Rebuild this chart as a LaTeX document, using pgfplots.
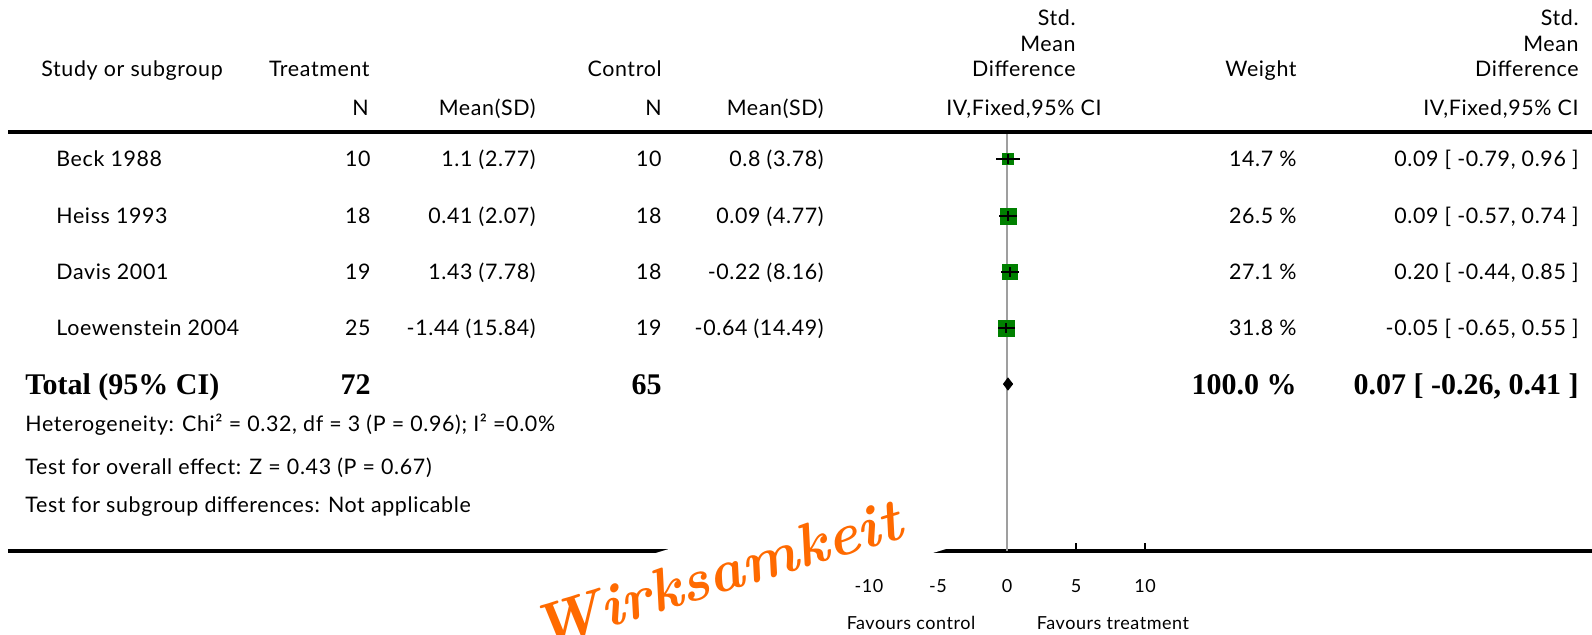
\documentclass[border=0pt]{standalone}
\usepackage{pgfplots}
\pgfplotsset{compat=1.18}
\usepackage{fontspec}
\newfontfamily\gill{Lato}[LetterSpace=3]
\newfontfamily\timesf{Liberation Serif}
\definecolor{smdgreen}{RGB}{0,128,0}
\definecolor{markorange}{RGB}{255,106,0}

\newcommand{\bodyfont}{\gill\fontsize{10.7}{12}\selectfont}
\newcommand{\smallfont}{\gill\fontsize{9}{10}\selectfont}
\newcommand{\totalfont}{\timesf\bfseries\fontsize{15}{18}\selectfont}

\tikzset{
  txt/.style={font=\bodyfont, inner sep=0pt, text=black},
  tot/.style={font=\totalfont, inner sep=0pt, text=black},
}

% one table row: baseline, study, N, mean(SD), N, mean(SD), weight, SMD [CI]
\newcommand{\studyrow}[8]{%
  \node[txt, anchor=base west] at (56,#1) {#2};
  \node[txt, anchor=base east] at (371,#1) {#3};
  \node[txt, anchor=base east] at (536,#1) {#4};
  \node[txt, anchor=base east] at (662,#1) {#5};
  \node[txt, anchor=base east] at (824,#1) {#6};
  \node[txt, anchor=base east] at (1297,#1) {#7};
  \node[txt, anchor=base east] at (1579,#1) {#8};
}

% one study in the forest: row, SMD, lower, upper, square half-size
\newcommand{\studymark}[5]{%
  \addplot[only marks, mark=square*, mark size=#5, draw=smdgreen, fill=smdgreen]
    coordinates {(#2,-#1)};
  \addplot[black, line width=1.2pt] coordinates {(#3,-#1) (#4,-#1)};
  \addplot[only marks, mark=|, mark size=2.3pt, black, mark options={line width=0.9pt}]
    coordinates {(#2,-#1)};
}

\begin{document}
\begin{tikzpicture}
% page frame: 1592 x 634 units of 0.5pt, origin at top left
\useasboundingbox (0pt,0pt) rectangle (796pt,-317pt);

\begin{axis}[
  at={(4pt,-275.5pt)}, anchor=south west,
  scale only axis, width=792pt, height=209.5pt,
  xmin=-72.39, xmax=42.39, ymin=-551, ymax=-132,
  axis x line*=bottom, axis y line=none,
  x axis line style={line width=2pt, black},
  xtick={-10,-5,0,5,10}, xticklabels={-10,-5,0,5,10},
  tick align=inside, major tick length=4pt,
  xtick style={black, line width=0.6pt},
  xticklabel style={font=\smallfont, anchor=center, yshift=-17.5pt},
  clip=false, clip marker paths=true,
]
% line of no effect
\addplot[gray!75, line width=0.8pt] coordinates {(0,-132) (0,-551)};
% studies: row, SMD, 95% CI, square half-size
\studymark{159}{0.09}{-0.79}{0.96}{2.8pt}
\studymark{216}{0.09}{-0.57}{0.74}{4.0pt}
\studymark{272}{0.20}{-0.44}{0.85}{3.6pt}
\studymark{328}{-0.05}{-0.65}{0.55}{4.0pt}
% pooled estimate 0.07 [-0.26, 0.41]
\addplot[black, fill=black] coordinates {(-0.26,-384) (0.07,-378) (0.41,-384) (0.07,-390)} -- cycle;
\end{axis}

\begin{scope}[x=0.5pt, y=-0.5pt]
% top rule
\draw[line width=2pt] (8,132) -- (1592,132);

% header
\node[txt, anchor=base west] at (41,76) {Study or subgroup};
\node[txt, anchor=base east] at (370,76) {Treatment};
\node[txt, anchor=base east] at (662,76) {Control};
\node[txt, anchor=base east] at (1297,76) {Weight};
\node[txt, anchor=base east] at (1076,25) {Std.};
\node[txt, anchor=base east] at (1076,51) {Mean};
\node[txt, anchor=base east] at (1076,76) {Difference};
\node[txt, anchor=base east] at (1579,25) {Std.};
\node[txt, anchor=base east] at (1579,51) {Mean};
\node[txt, anchor=base east] at (1579,76) {Difference};
\node[txt, anchor=base east] at (369,115) {N};
\node[txt, anchor=base east] at (536,115) {Mean(SD)};
\node[txt, anchor=base east] at (662,115) {N};
\node[txt, anchor=base east] at (824,115) {Mean(SD)};
\node[txt, anchor=base east] at (1102,115) {IV,Fixed,95\% CI};
\node[txt, anchor=base east] at (1579,115) {IV,Fixed,95\% CI};

% studies
\studyrow{166}{Beck 1988}{10}{1.1 (2.77)}{10}{0.8 (3.78)}{14.7 \%}{0.09 [ -0.79, 0.96 ]}
\studyrow{223}{Heiss 1993}{18}{0.41 (2.07)}{18}{0.09 (4.77)}{26.5 \%}{0.09 [ -0.57, 0.74 ]}
\studyrow{279}{Davis 2001}{19}{1.43 (7.78)}{18}{-0.22 (8.16)}{27.1 \%}{0.20 [ -0.44, 0.85 ]}
\studyrow{335}{Loewenstein 2004}{25}{-1.44 (15.84)}{19}{-0.64 (14.49)}{31.8 \%}{-0.05 [ -0.65, 0.55 ]}

% total
\node[tot, anchor=base west] at (25,394) {Total (95\% CI)};
\node[tot, anchor=base east] at (371,394) {72};
\node[tot, anchor=base east] at (662,394) {65};
\node[tot, anchor=base east] at (1297,394) {100.0 \%};
\node[tot, anchor=base east] at (1579,394) {0.07 [ -0.26, 0.41 ]};

% footnotes
\node[txt, anchor=base west] at (25,431) {Heterogeneity: Chi² = 0.32, df = 3 (P = 0.96); I² =0.0\%};
\node[txt, anchor=base west] at (25,474) {Test for overall effect: Z = 0.43 (P = 0.67)};
\node[txt, anchor=base west] at (25,512) {Test for subgroup differences: Not applicable};

% handwritten stamp
\node[rotate=17, anchor=base west, fill=white, inner xsep=32pt, inner ysep=5pt,
      text height=24pt, text depth=6.5pt, text=markorange,
      font=\rmfamily\bfseries\itshape\fontsize{30}{36}\selectfont] at (478,668) {Wirksamkeit};

% favours labels
\node[font=\smallfont, inner sep=0pt] at (911,623) {Favours control};
\node[font=\smallfont, inner sep=0pt] at (1113,623) {Favours treatment};
\end{scope}
\end{tikzpicture}
\end{document}
